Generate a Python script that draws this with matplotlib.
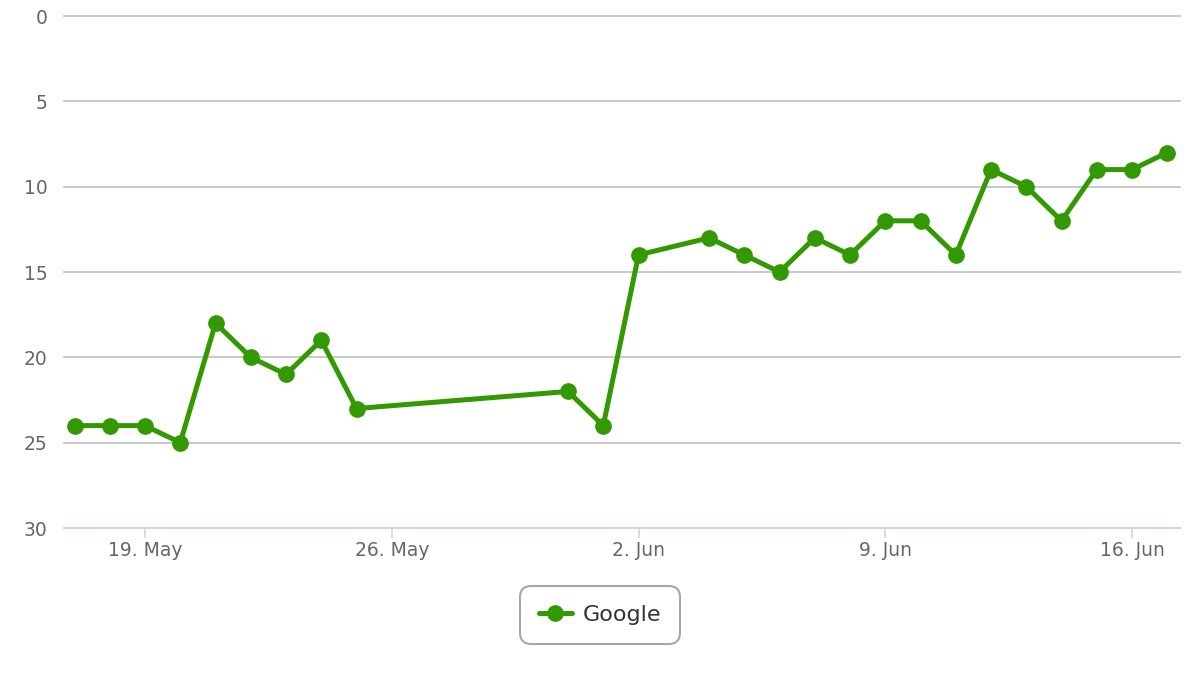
import matplotlib
matplotlib.use("Agg")
import matplotlib.pyplot as plt
import datetime as dt

plt.rcParams["font.family"] = ["DejaVu Sans"]

dates = ["2013-05-17", "2013-05-18", "2013-05-19", "2013-05-20", "2013-05-21",
         "2013-05-22", "2013-05-23", "2013-05-24", "2013-05-25", "2013-05-31",
         "2013-06-01", "2013-06-02", "2013-06-04", "2013-06-05", "2013-06-06",
         "2013-06-07", "2013-06-08", "2013-06-09", "2013-06-10", "2013-06-11",
         "2013-06-12", "2013-06-13", "2013-06-14", "2013-06-15", "2013-06-16",
         "2013-06-17"]
google = [24, 24, 24, 25, 18, 20, 21, 19, 23, 22, 24, 14, 13, 14, 15,
          13, 14, 12, 12, 14, 9, 10, 12, 9, 9, 8]
tick_dates = ["2013-05-19", "2013-05-26", "2013-06-02", "2013-06-09", "2013-06-16"]
tick_labels = ["19. May", "26. May", "2. Jun", "9. Jun", "16. Jun"]
y_ticks = [0, 5, 10, 15, 20, 25, 30]

x = [dt.datetime.strptime(d, "%Y-%m-%d") for d in dates]
xt = [dt.datetime.strptime(d, "%Y-%m-%d") for d in tick_dates]

fig = plt.figure(figsize=(12, 6.76), dpi=100)
ax = fig.add_axes([64/1200, 1-528/676, (1180-64)/1200, (528-16)/676])

green = "#339900"
ax.plot(x, google, color=green, lw=3.6, marker="o", ms=11, label="Google",
        solid_capstyle="round", solid_joinstyle="round", zorder=3, clip_on=False)

ax.set_ylim(30, 0)
ax.set_yticks(y_ticks)
x0 = dt.datetime(2013, 5, 19) - dt.timedelta(days=2.298)
x1 = dt.datetime(2013, 6, 16) + dt.timedelta(days=1.36)
ax.set_xlim(x0, x1)
ax.set_xticks(xt)
ax.set_xticklabels(tick_labels)

ax.grid(axis="y", color="#c0c0c0", lw=1.2)
for gl in ax.get_ygridlines():
    gl.set_clip_on(False)
ax.set_axisbelow(True)
for s in ["top", "right", "left"]:
    ax.spines[s].set_visible(False)
ax.spines["bottom"].set_color("#ccd6eb")
ax.spines["bottom"].set_linewidth(1.2)
ax.spines["bottom"].set_zorder(1.5)
ax.tick_params(axis="x", colors="#ccd6eb", length=7, width=1.2, labelcolor="#666666",
               labelsize=13.5, pad=2)
ax.tick_params(axis="y", length=0, labelcolor="#666666", labelsize=13.5, pad=12)

leg = fig.legend(loc="center", bbox_to_anchor=(600/1200, 1-615/676), frameon=True,
                 fontsize=16, handlelength=1.5, handletextpad=0.5, borderpad=0.85,
                 borderaxespad=0, fancybox=True, labelcolor="#333333", markerscale=1.0)
leg.get_frame().set_edgecolor("#909090")
leg.get_frame().set_linewidth(1.5)
leg.get_frame().set_boxstyle("round,pad=0,rounding_size=0.5")

fig.savefig("out.png", dpi=100)
